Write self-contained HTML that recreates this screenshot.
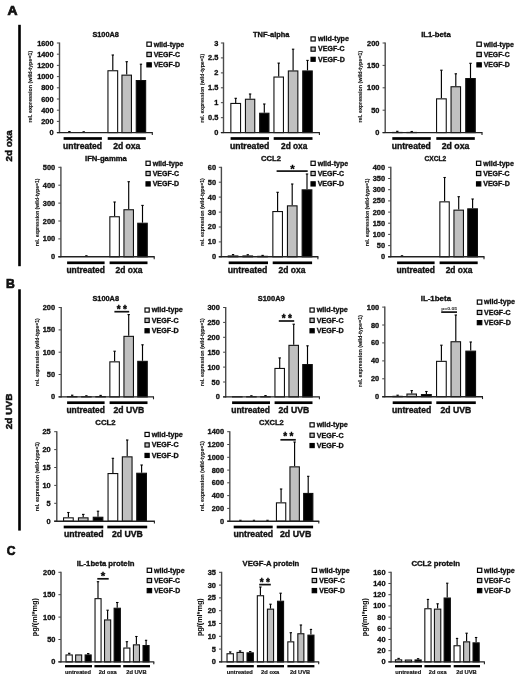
<!DOCTYPE html>
<html><head><meta charset="utf-8"><title>Figure</title>
<style>
html,body{margin:0;padding:0;background:#fff;}
body{width:520px;height:679px;overflow:hidden;font-family:"Liberation Sans",sans-serif;}
svg{display:block;will-change:transform;filter:blur(0.5px);}
text{font-family:"Liberation Sans",sans-serif;}
</style></head><body>
<svg width="520" height="679" viewBox="0 0 520 679" font-family='"Liberation Sans", sans-serif'>
<rect width="520" height="679" fill="#fff"/>
<text x="7.6" y="15.0" font-size="12" font-weight="bold" text-anchor="start" fill="#111" textLength="10.0" lengthAdjust="spacingAndGlyphs" stroke="#111" stroke-width="0.7">A</text>
<text x="6.0" y="288.3" font-size="12.2" font-weight="bold" text-anchor="start" fill="#111" stroke="#111" stroke-width="0.7">B</text>
<text x="6.7" y="554.7" font-size="12" font-weight="bold" text-anchor="start" fill="#111" stroke="#111" stroke-width="0.7">C</text>
<rect x="18.2" y="24.8" width="2.6" height="241.4" fill="#000"/>
<rect x="18.2" y="289.3" width="2.6" height="241.3" fill="#000"/>
<text transform="translate(11.7,145.8) rotate(-90)" font-size="9.7" font-weight="bold" text-anchor="middle" fill="#111" stroke="#111" stroke-width="0.5" textLength="31.3" lengthAdjust="spacingAndGlyphs">2d oxa</text>
<text transform="translate(11.7,411.4) rotate(-90)" font-size="9.7" font-weight="bold" text-anchor="middle" fill="#111" stroke="#111" stroke-width="0.5" textLength="35.6" lengthAdjust="spacingAndGlyphs">2d UVB</text>
<line x1="56.9" y1="132.6" x2="59.5" y2="132.6" stroke="#444" stroke-width="1.0"/>
<text x="53.6" y="135.1" font-size="7.4" font-weight="bold" text-anchor="end" fill="#111" stroke="#111" stroke-width="0.33">0</text>
<line x1="56.9" y1="121.4" x2="59.5" y2="121.4" stroke="#444" stroke-width="1.0"/>
<text x="53.6" y="123.9" font-size="7.4" font-weight="bold" text-anchor="end" fill="#111" stroke="#111" stroke-width="0.33">200</text>
<line x1="56.9" y1="110.2" x2="59.5" y2="110.2" stroke="#444" stroke-width="1.0"/>
<text x="53.6" y="112.7" font-size="7.4" font-weight="bold" text-anchor="end" fill="#111" stroke="#111" stroke-width="0.33">400</text>
<line x1="56.9" y1="99.0" x2="59.5" y2="99.0" stroke="#444" stroke-width="1.0"/>
<text x="53.6" y="101.5" font-size="7.4" font-weight="bold" text-anchor="end" fill="#111" stroke="#111" stroke-width="0.33">600</text>
<line x1="56.9" y1="87.8" x2="59.5" y2="87.8" stroke="#444" stroke-width="1.0"/>
<text x="53.6" y="90.3" font-size="7.4" font-weight="bold" text-anchor="end" fill="#111" stroke="#111" stroke-width="0.33">800</text>
<line x1="56.9" y1="76.6" x2="59.5" y2="76.6" stroke="#444" stroke-width="1.0"/>
<text x="53.6" y="79.1" font-size="7.4" font-weight="bold" text-anchor="end" fill="#111" stroke="#111" stroke-width="0.33">1000</text>
<line x1="56.9" y1="65.4" x2="59.5" y2="65.4" stroke="#444" stroke-width="1.0"/>
<text x="53.6" y="67.9" font-size="7.4" font-weight="bold" text-anchor="end" fill="#111" stroke="#111" stroke-width="0.33">1200</text>
<line x1="56.9" y1="54.2" x2="59.5" y2="54.2" stroke="#444" stroke-width="1.0"/>
<text x="53.6" y="56.7" font-size="7.4" font-weight="bold" text-anchor="end" fill="#111" stroke="#111" stroke-width="0.33">1400</text>
<line x1="56.9" y1="43.0" x2="59.5" y2="43.0" stroke="#444" stroke-width="1.0"/>
<text x="53.6" y="45.5" font-size="7.4" font-weight="bold" text-anchor="end" fill="#111" stroke="#111" stroke-width="0.33">1600</text>
<line x1="69.4" y1="131.6" x2="69.4" y2="132.3" stroke="#000" stroke-width="1.15"/>
<line x1="68.2" y1="131.6" x2="70.6" y2="131.6" stroke="#000" stroke-width="1.1"/>
<line x1="83.7" y1="131.8" x2="83.7" y2="132.3" stroke="#000" stroke-width="1.15"/>
<line x1="82.5" y1="131.8" x2="84.9" y2="131.8" stroke="#000" stroke-width="1.1"/>
<line x1="112.8" y1="55.0" x2="112.8" y2="70.2" stroke="#000" stroke-width="1.15"/>
<line x1="111.6" y1="55.0" x2="114.0" y2="55.0" stroke="#000" stroke-width="1.1"/>
<rect x="107.95" y="70.75" width="9.70" height="61.85" fill="#ffffff" stroke="#111" stroke-width="1.1"/>
<line x1="126.7" y1="61.7" x2="126.7" y2="74.6" stroke="#000" stroke-width="1.15"/>
<line x1="125.5" y1="61.7" x2="127.9" y2="61.7" stroke="#000" stroke-width="1.1"/>
<rect x="121.95" y="75.15" width="9.50" height="57.45" fill="#c0c0c0" stroke="#111" stroke-width="1.1"/>
<line x1="140.9" y1="64.2" x2="140.9" y2="80.0" stroke="#000" stroke-width="1.15"/>
<line x1="139.8" y1="64.2" x2="142.1" y2="64.2" stroke="#000" stroke-width="1.1"/>
<rect x="136.25" y="80.55" width="9.40" height="52.05" fill="#000000" stroke="#111" stroke-width="1.1"/>
<line x1="59.5" y1="42.5" x2="59.5" y2="133.1" stroke="#4a4a4a" stroke-width="1.4"/>
<line x1="56.9" y1="132.6" x2="152.8" y2="132.6" stroke="#222" stroke-width="1.4"/>
<line x1="152.3" y1="132.6" x2="152.3" y2="135.0" stroke="#222" stroke-width="1.1"/>
<rect x="63.6" y="137.15" width="38.3" height="2.7" fill="#000"/>
<text x="63.0" y="149.0" font-size="8.3" font-weight="bold" text-anchor="start" fill="#111" textLength="39.0" lengthAdjust="spacingAndGlyphs" stroke="#111" stroke-width="0.36">untreated</text>
<rect x="107.7" y="137.15" width="38.1" height="2.7" fill="#000"/>
<text x="113.2" y="149.0" font-size="8.3" font-weight="bold" text-anchor="start" fill="#111" textLength="27.2" lengthAdjust="spacingAndGlyphs" stroke="#111" stroke-width="0.36">2d oxa</text>
<text x="92.4" y="36.7" font-size="7.4" font-weight="bold" text-anchor="start" fill="#111" textLength="26.5" lengthAdjust="spacingAndGlyphs" stroke="#111" stroke-width="0.33">S100A8</text>
<text transform="translate(31.7,86.7) rotate(-90)" font-size="5.3" font-weight="bold" text-anchor="middle" fill="#111" stroke="#111" stroke-width="0.1" textLength="71.7" lengthAdjust="spacingAndGlyphs">rel. expression (wild-type=1)</text>
<rect x="146.90" y="42.10" width="4.40" height="4.20" fill="#ffffff" stroke="#000" stroke-width="1.15"/>
<text x="153.7" y="46.5" font-size="7.1" font-weight="bold" text-anchor="start" fill="#111" textLength="30.5" lengthAdjust="spacingAndGlyphs" stroke="#111" stroke-width="0.33">wild-type</text>
<rect x="146.90" y="52.30" width="4.40" height="4.30" fill="#c0c0c0" stroke="#000" stroke-width="1.15"/>
<text x="153.7" y="56.7" font-size="7.1" font-weight="bold" text-anchor="start" fill="#111" textLength="26.3" lengthAdjust="spacingAndGlyphs" stroke="#111" stroke-width="0.33">VEGF-C</text>
<rect x="146.90" y="62.80" width="4.40" height="4.10" fill="#000000" stroke="#000" stroke-width="1.15"/>
<text x="153.7" y="67.1" font-size="7.1" font-weight="bold" text-anchor="start" fill="#111" textLength="26.5" lengthAdjust="spacingAndGlyphs" stroke="#111" stroke-width="0.33">VEGF-D</text>
<line x1="220.9" y1="132.6" x2="223.5" y2="132.6" stroke="#444" stroke-width="1.0"/>
<text x="218.4" y="135.1" font-size="7.4" font-weight="bold" text-anchor="end" fill="#111" stroke="#111" stroke-width="0.33">0</text>
<line x1="220.9" y1="117.7" x2="223.5" y2="117.7" stroke="#444" stroke-width="1.0"/>
<text x="218.4" y="120.1" font-size="7.4" font-weight="bold" text-anchor="end" fill="#111" stroke="#111" stroke-width="0.33">0.5</text>
<line x1="220.9" y1="102.7" x2="223.5" y2="102.7" stroke="#444" stroke-width="1.0"/>
<text x="218.4" y="105.2" font-size="7.4" font-weight="bold" text-anchor="end" fill="#111" stroke="#111" stroke-width="0.33">1</text>
<line x1="220.9" y1="87.8" x2="223.5" y2="87.8" stroke="#444" stroke-width="1.0"/>
<text x="218.4" y="90.3" font-size="7.4" font-weight="bold" text-anchor="end" fill="#111" stroke="#111" stroke-width="0.33">1.5</text>
<line x1="220.9" y1="72.9" x2="223.5" y2="72.9" stroke="#444" stroke-width="1.0"/>
<text x="218.4" y="75.3" font-size="7.4" font-weight="bold" text-anchor="end" fill="#111" stroke="#111" stroke-width="0.33">2</text>
<line x1="220.9" y1="57.9" x2="223.5" y2="57.9" stroke="#444" stroke-width="1.0"/>
<text x="218.4" y="60.4" font-size="7.4" font-weight="bold" text-anchor="end" fill="#111" stroke="#111" stroke-width="0.33">2.5</text>
<line x1="220.9" y1="43.0" x2="223.5" y2="43.0" stroke="#444" stroke-width="1.0"/>
<text x="218.4" y="45.5" font-size="7.4" font-weight="bold" text-anchor="end" fill="#111" stroke="#111" stroke-width="0.33">3</text>
<line x1="235.7" y1="98.3" x2="235.7" y2="102.9" stroke="#000" stroke-width="1.15"/>
<line x1="234.5" y1="98.3" x2="236.9" y2="98.3" stroke="#000" stroke-width="1.1"/>
<rect x="230.85" y="103.45" width="9.70" height="29.15" fill="#ffffff" stroke="#111" stroke-width="1.1"/>
<line x1="250.1" y1="94.0" x2="250.1" y2="98.7" stroke="#000" stroke-width="1.15"/>
<line x1="248.9" y1="94.0" x2="251.3" y2="94.0" stroke="#000" stroke-width="1.1"/>
<rect x="245.45" y="99.25" width="9.30" height="33.35" fill="#c0c0c0" stroke="#111" stroke-width="1.1"/>
<line x1="264.3" y1="104.0" x2="264.3" y2="112.7" stroke="#000" stroke-width="1.15"/>
<line x1="263.1" y1="104.0" x2="265.5" y2="104.0" stroke="#000" stroke-width="1.1"/>
<rect x="259.65" y="113.25" width="9.30" height="19.35" fill="#000000" stroke="#111" stroke-width="1.1"/>
<line x1="278.7" y1="63.1" x2="278.7" y2="76.5" stroke="#000" stroke-width="1.15"/>
<line x1="277.5" y1="63.1" x2="279.9" y2="63.1" stroke="#000" stroke-width="1.1"/>
<rect x="273.95" y="77.05" width="9.50" height="55.55" fill="#ffffff" stroke="#111" stroke-width="1.1"/>
<line x1="293.1" y1="49.2" x2="293.1" y2="70.4" stroke="#000" stroke-width="1.15"/>
<line x1="291.9" y1="49.2" x2="294.3" y2="49.2" stroke="#000" stroke-width="1.1"/>
<rect x="288.35" y="70.95" width="9.50" height="61.65" fill="#c0c0c0" stroke="#111" stroke-width="1.1"/>
<line x1="307.5" y1="60.4" x2="307.5" y2="70.4" stroke="#000" stroke-width="1.15"/>
<line x1="306.3" y1="60.4" x2="308.7" y2="60.4" stroke="#000" stroke-width="1.1"/>
<rect x="302.75" y="70.95" width="9.50" height="61.65" fill="#000000" stroke="#111" stroke-width="1.1"/>
<line x1="223.5" y1="42.5" x2="223.5" y2="133.1" stroke="#4a4a4a" stroke-width="1.4"/>
<line x1="220.9" y1="132.6" x2="319.9" y2="132.6" stroke="#222" stroke-width="1.4"/>
<line x1="319.4" y1="132.6" x2="319.4" y2="135.0" stroke="#222" stroke-width="1.1"/>
<rect x="230.6" y="137.15" width="38.4" height="2.7" fill="#000"/>
<text x="229.9" y="149.0" font-size="8.3" font-weight="bold" text-anchor="start" fill="#111" textLength="39.5" lengthAdjust="spacingAndGlyphs" stroke="#111" stroke-width="0.36">untreated</text>
<rect x="273.7" y="137.15" width="38.8" height="2.7" fill="#000"/>
<text x="281.0" y="149.0" font-size="8.3" font-weight="bold" text-anchor="start" fill="#111" textLength="26.4" lengthAdjust="spacingAndGlyphs" stroke="#111" stroke-width="0.36">2d oxa</text>
<text x="253.0" y="36.7" font-size="7.4" font-weight="bold" text-anchor="start" fill="#111" textLength="36.5" lengthAdjust="spacingAndGlyphs" stroke="#111" stroke-width="0.33">TNF-alpha</text>
<text transform="translate(204.2,88.2) rotate(-90)" font-size="5.3" font-weight="bold" text-anchor="middle" fill="#111" stroke="#111" stroke-width="0.1" textLength="68.7" lengthAdjust="spacingAndGlyphs">rel. expression (wild-type=1)</text>
<rect x="311.00" y="36.90" width="4.20" height="4.10" fill="#ffffff" stroke="#000" stroke-width="1.15"/>
<text x="318.1" y="41.2" font-size="7.1" font-weight="bold" text-anchor="start" fill="#111" textLength="30.8" lengthAdjust="spacingAndGlyphs" stroke="#111" stroke-width="0.33">wild-type</text>
<rect x="311.00" y="47.10" width="4.20" height="4.10" fill="#c0c0c0" stroke="#000" stroke-width="1.15"/>
<text x="318.1" y="51.4" font-size="7.1" font-weight="bold" text-anchor="start" fill="#111" textLength="26.5" lengthAdjust="spacingAndGlyphs" stroke="#111" stroke-width="0.33">VEGF-C</text>
<rect x="311.00" y="57.30" width="4.20" height="4.00" fill="#000000" stroke="#000" stroke-width="1.15"/>
<text x="318.1" y="61.5" font-size="7.1" font-weight="bold" text-anchor="start" fill="#111" textLength="26.7" lengthAdjust="spacingAndGlyphs" stroke="#111" stroke-width="0.33">VEGF-D</text>
<line x1="382.6" y1="132.6" x2="385.2" y2="132.6" stroke="#444" stroke-width="1.0"/>
<text x="379.4" y="135.1" font-size="7.4" font-weight="bold" text-anchor="end" fill="#111" stroke="#111" stroke-width="0.33">0</text>
<line x1="382.6" y1="110.2" x2="385.2" y2="110.2" stroke="#444" stroke-width="1.0"/>
<text x="379.4" y="112.7" font-size="7.4" font-weight="bold" text-anchor="end" fill="#111" stroke="#111" stroke-width="0.33">50</text>
<line x1="382.6" y1="87.8" x2="385.2" y2="87.8" stroke="#444" stroke-width="1.0"/>
<text x="379.4" y="90.3" font-size="7.4" font-weight="bold" text-anchor="end" fill="#111" stroke="#111" stroke-width="0.33">100</text>
<line x1="382.6" y1="65.4" x2="385.2" y2="65.4" stroke="#444" stroke-width="1.0"/>
<text x="379.4" y="67.9" font-size="7.4" font-weight="bold" text-anchor="end" fill="#111" stroke="#111" stroke-width="0.33">150</text>
<line x1="382.6" y1="43.0" x2="385.2" y2="43.0" stroke="#444" stroke-width="1.0"/>
<text x="379.4" y="45.5" font-size="7.4" font-weight="bold" text-anchor="end" fill="#111" stroke="#111" stroke-width="0.33">200</text>
<line x1="397.3" y1="131.3" x2="397.3" y2="131.9" stroke="#000" stroke-width="1.15"/>
<line x1="396.1" y1="131.3" x2="398.5" y2="131.3" stroke="#000" stroke-width="1.1"/>
<rect x="392.55" y="132.45" width="9.50" height="0.15" fill="#ffffff" stroke="#111" stroke-width="1.1"/>
<line x1="411.7" y1="131.5" x2="411.7" y2="131.9" stroke="#000" stroke-width="1.15"/>
<line x1="410.5" y1="131.5" x2="412.9" y2="131.5" stroke="#000" stroke-width="1.1"/>
<rect x="406.95" y="132.45" width="9.50" height="0.15" fill="#c0c0c0" stroke="#111" stroke-width="1.1"/>
<line x1="441.4" y1="70.2" x2="441.4" y2="98.3" stroke="#000" stroke-width="1.15"/>
<line x1="440.2" y1="70.2" x2="442.6" y2="70.2" stroke="#000" stroke-width="1.1"/>
<rect x="436.55" y="98.85" width="9.70" height="33.75" fill="#ffffff" stroke="#111" stroke-width="1.1"/>
<line x1="455.8" y1="73.8" x2="455.8" y2="86.2" stroke="#000" stroke-width="1.15"/>
<line x1="454.6" y1="73.8" x2="457.0" y2="73.8" stroke="#000" stroke-width="1.1"/>
<rect x="451.05" y="86.75" width="9.50" height="45.85" fill="#c0c0c0" stroke="#111" stroke-width="1.1"/>
<line x1="470.5" y1="63.3" x2="470.5" y2="78.0" stroke="#000" stroke-width="1.15"/>
<line x1="469.3" y1="63.3" x2="471.7" y2="63.3" stroke="#000" stroke-width="1.1"/>
<rect x="465.75" y="78.55" width="9.50" height="54.05" fill="#000000" stroke="#111" stroke-width="1.1"/>
<line x1="385.2" y1="42.5" x2="385.2" y2="133.1" stroke="#4a4a4a" stroke-width="1.4"/>
<line x1="382.6" y1="132.6" x2="482.5" y2="132.6" stroke="#222" stroke-width="1.4"/>
<line x1="482.0" y1="132.6" x2="482.0" y2="135.0" stroke="#222" stroke-width="1.1"/>
<rect x="392.3" y="137.15" width="38.5" height="2.7" fill="#000"/>
<text x="391.7" y="149.0" font-size="8.3" font-weight="bold" text-anchor="start" fill="#111" textLength="39.1" lengthAdjust="spacingAndGlyphs" stroke="#111" stroke-width="0.36">untreated</text>
<rect x="436.3" y="137.15" width="38.5" height="2.7" fill="#000"/>
<text x="441.7" y="149.0" font-size="8.3" font-weight="bold" text-anchor="start" fill="#111" textLength="27.7" lengthAdjust="spacingAndGlyphs" stroke="#111" stroke-width="0.36">2d oxa</text>
<text x="421.2" y="36.7" font-size="7.4" font-weight="bold" text-anchor="start" fill="#111" textLength="29.5" lengthAdjust="spacingAndGlyphs" stroke="#111" stroke-width="0.33">IL1-beta</text>
<text transform="translate(361.7,86.7) rotate(-90)" font-size="5.3" font-weight="bold" text-anchor="middle" fill="#111" stroke="#111" stroke-width="0.1" textLength="71.7" lengthAdjust="spacingAndGlyphs">rel. expression (wild-type=1)</text>
<rect x="476.90" y="42.10" width="4.40" height="4.20" fill="#ffffff" stroke="#000" stroke-width="1.15"/>
<text x="483.7" y="46.5" font-size="7.1" font-weight="bold" text-anchor="start" fill="#111" textLength="30.3" lengthAdjust="spacingAndGlyphs" stroke="#111" stroke-width="0.33">wild-type</text>
<rect x="476.90" y="52.30" width="4.40" height="4.30" fill="#c0c0c0" stroke="#000" stroke-width="1.15"/>
<text x="483.7" y="56.7" font-size="7.1" font-weight="bold" text-anchor="start" fill="#111" textLength="25.9" lengthAdjust="spacingAndGlyphs" stroke="#111" stroke-width="0.33">VEGF-C</text>
<rect x="476.90" y="62.80" width="4.40" height="4.10" fill="#000000" stroke="#000" stroke-width="1.15"/>
<text x="483.7" y="67.1" font-size="7.1" font-weight="bold" text-anchor="start" fill="#111" textLength="26.1" lengthAdjust="spacingAndGlyphs" stroke="#111" stroke-width="0.33">VEGF-D</text>
<line x1="58.3" y1="256.8" x2="60.9" y2="256.8" stroke="#444" stroke-width="1.0"/>
<text x="55.2" y="259.3" font-size="7.4" font-weight="bold" text-anchor="end" fill="#111" stroke="#111" stroke-width="0.33">0</text>
<line x1="58.3" y1="238.9" x2="60.9" y2="238.9" stroke="#444" stroke-width="1.0"/>
<text x="55.2" y="241.4" font-size="7.4" font-weight="bold" text-anchor="end" fill="#111" stroke="#111" stroke-width="0.33">100</text>
<line x1="58.3" y1="221.0" x2="60.9" y2="221.0" stroke="#444" stroke-width="1.0"/>
<text x="55.2" y="223.5" font-size="7.4" font-weight="bold" text-anchor="end" fill="#111" stroke="#111" stroke-width="0.33">200</text>
<line x1="58.3" y1="203.1" x2="60.9" y2="203.1" stroke="#444" stroke-width="1.0"/>
<text x="55.2" y="205.6" font-size="7.4" font-weight="bold" text-anchor="end" fill="#111" stroke="#111" stroke-width="0.33">300</text>
<line x1="58.3" y1="185.2" x2="60.9" y2="185.2" stroke="#444" stroke-width="1.0"/>
<text x="55.2" y="187.7" font-size="7.4" font-weight="bold" text-anchor="end" fill="#111" stroke="#111" stroke-width="0.33">400</text>
<line x1="58.3" y1="167.3" x2="60.9" y2="167.3" stroke="#444" stroke-width="1.0"/>
<text x="55.2" y="169.8" font-size="7.4" font-weight="bold" text-anchor="end" fill="#111" stroke="#111" stroke-width="0.33">500</text>
<rect x="67.45" y="256.85" width="9.50" height="-0.05" fill="#ffffff" stroke="#111" stroke-width="1.1"/>
<line x1="86.4" y1="255.8" x2="86.4" y2="256.3" stroke="#000" stroke-width="1.15"/>
<line x1="85.2" y1="255.8" x2="87.6" y2="255.8" stroke="#000" stroke-width="1.1"/>
<rect x="81.65" y="256.85" width="9.50" height="-0.05" fill="#c0c0c0" stroke="#111" stroke-width="1.1"/>
<line x1="114.6" y1="202.0" x2="114.6" y2="216.2" stroke="#000" stroke-width="1.15"/>
<line x1="113.4" y1="202.0" x2="115.8" y2="202.0" stroke="#000" stroke-width="1.1"/>
<rect x="109.85" y="216.75" width="9.50" height="40.05" fill="#ffffff" stroke="#111" stroke-width="1.1"/>
<line x1="128.7" y1="181.7" x2="128.7" y2="209.2" stroke="#000" stroke-width="1.15"/>
<line x1="127.5" y1="181.7" x2="129.9" y2="181.7" stroke="#000" stroke-width="1.1"/>
<rect x="123.95" y="209.75" width="9.50" height="47.05" fill="#c0c0c0" stroke="#111" stroke-width="1.1"/>
<line x1="142.5" y1="205.4" x2="142.5" y2="222.7" stroke="#000" stroke-width="1.15"/>
<line x1="141.3" y1="205.4" x2="143.7" y2="205.4" stroke="#000" stroke-width="1.1"/>
<rect x="137.75" y="223.25" width="9.50" height="33.55" fill="#000000" stroke="#111" stroke-width="1.1"/>
<line x1="60.9" y1="166.8" x2="60.9" y2="257.3" stroke="#4a4a4a" stroke-width="1.4"/>
<line x1="58.3" y1="256.8" x2="154.7" y2="256.8" stroke="#222" stroke-width="1.4"/>
<line x1="154.2" y1="256.8" x2="154.2" y2="259.2" stroke="#222" stroke-width="1.1"/>
<rect x="67.1" y="261.45" width="37.5" height="2.7" fill="#000"/>
<text x="66.4" y="273.2" font-size="8.3" font-weight="bold" text-anchor="start" fill="#111" textLength="38.6" lengthAdjust="spacingAndGlyphs" stroke="#111" stroke-width="0.36">untreated</text>
<rect x="109.6" y="261.45" width="37.9" height="2.7" fill="#000"/>
<text x="115.5" y="273.2" font-size="8.3" font-weight="bold" text-anchor="start" fill="#111" textLength="26.9" lengthAdjust="spacingAndGlyphs" stroke="#111" stroke-width="0.36">2d oxa</text>
<text x="85.0" y="161.0" font-size="7.4" font-weight="bold" text-anchor="start" fill="#111" textLength="41.8" lengthAdjust="spacingAndGlyphs" stroke="#111" stroke-width="0.33">IFN-gamma</text>
<text transform="translate(39.0,212.4) rotate(-90)" font-size="5.0" font-weight="bold" text-anchor="middle" fill="#111" stroke="#111" stroke-width="0.1" textLength="67.6" lengthAdjust="spacingAndGlyphs">rel. expression (wild-type=1)</text>
<rect x="146.00" y="161.20" width="4.20" height="4.20" fill="#ffffff" stroke="#000" stroke-width="1.15"/>
<text x="152.7" y="165.6" font-size="7.1" font-weight="bold" text-anchor="start" fill="#111" textLength="30.5" lengthAdjust="spacingAndGlyphs" stroke="#111" stroke-width="0.33">wild-type</text>
<rect x="146.00" y="171.40" width="4.20" height="4.20" fill="#c0c0c0" stroke="#000" stroke-width="1.15"/>
<text x="152.7" y="175.8" font-size="7.1" font-weight="bold" text-anchor="start" fill="#111" textLength="26.3" lengthAdjust="spacingAndGlyphs" stroke="#111" stroke-width="0.33">VEGF-C</text>
<rect x="146.00" y="181.80" width="4.20" height="4.20" fill="#000000" stroke="#000" stroke-width="1.15"/>
<text x="152.7" y="186.1" font-size="7.1" font-weight="bold" text-anchor="start" fill="#111" textLength="26.5" lengthAdjust="spacingAndGlyphs" stroke="#111" stroke-width="0.33">VEGF-D</text>
<line x1="218.8" y1="256.8" x2="221.4" y2="256.8" stroke="#444" stroke-width="1.0"/>
<text x="216.0" y="259.3" font-size="7.4" font-weight="bold" text-anchor="end" fill="#111" stroke="#111" stroke-width="0.33">0</text>
<line x1="218.8" y1="241.9" x2="221.4" y2="241.9" stroke="#444" stroke-width="1.0"/>
<text x="216.0" y="244.3" font-size="7.4" font-weight="bold" text-anchor="end" fill="#111" stroke="#111" stroke-width="0.33">10</text>
<line x1="218.8" y1="227.0" x2="221.4" y2="227.0" stroke="#444" stroke-width="1.0"/>
<text x="216.0" y="229.4" font-size="7.4" font-weight="bold" text-anchor="end" fill="#111" stroke="#111" stroke-width="0.33">20</text>
<line x1="218.8" y1="212.1" x2="221.4" y2="212.1" stroke="#444" stroke-width="1.0"/>
<text x="216.0" y="214.5" font-size="7.4" font-weight="bold" text-anchor="end" fill="#111" stroke="#111" stroke-width="0.33">30</text>
<line x1="218.8" y1="197.1" x2="221.4" y2="197.1" stroke="#444" stroke-width="1.0"/>
<text x="216.0" y="199.6" font-size="7.4" font-weight="bold" text-anchor="end" fill="#111" stroke="#111" stroke-width="0.33">40</text>
<line x1="218.8" y1="182.2" x2="221.4" y2="182.2" stroke="#444" stroke-width="1.0"/>
<text x="216.0" y="184.7" font-size="7.4" font-weight="bold" text-anchor="end" fill="#111" stroke="#111" stroke-width="0.33">50</text>
<line x1="218.8" y1="167.3" x2="221.4" y2="167.3" stroke="#444" stroke-width="1.0"/>
<text x="216.0" y="169.8" font-size="7.4" font-weight="bold" text-anchor="end" fill="#111" stroke="#111" stroke-width="0.33">60</text>
<line x1="233.1" y1="254.6" x2="233.1" y2="255.4" stroke="#000" stroke-width="1.15"/>
<line x1="231.9" y1="254.6" x2="234.2" y2="254.6" stroke="#000" stroke-width="1.1"/>
<rect x="228.25" y="255.95" width="9.60" height="0.85" fill="#ffffff" stroke="#111" stroke-width="1.1"/>
<line x1="247.8" y1="254.7" x2="247.8" y2="255.4" stroke="#000" stroke-width="1.15"/>
<line x1="246.6" y1="254.7" x2="248.9" y2="254.7" stroke="#000" stroke-width="1.1"/>
<rect x="242.95" y="255.95" width="9.60" height="0.85" fill="#c0c0c0" stroke="#111" stroke-width="1.1"/>
<line x1="262.6" y1="255.4" x2="262.6" y2="255.8" stroke="#000" stroke-width="1.15"/>
<line x1="261.4" y1="255.4" x2="263.8" y2="255.4" stroke="#000" stroke-width="1.1"/>
<rect x="257.75" y="256.35" width="9.60" height="0.45" fill="#000000" stroke="#111" stroke-width="1.1"/>
<line x1="277.6" y1="192.3" x2="277.6" y2="211.0" stroke="#000" stroke-width="1.15"/>
<line x1="276.4" y1="192.3" x2="278.8" y2="192.3" stroke="#000" stroke-width="1.1"/>
<rect x="272.85" y="211.55" width="9.60" height="45.25" fill="#ffffff" stroke="#111" stroke-width="1.1"/>
<line x1="292.2" y1="184.0" x2="292.2" y2="205.3" stroke="#000" stroke-width="1.15"/>
<line x1="291.1" y1="184.0" x2="293.4" y2="184.0" stroke="#000" stroke-width="1.1"/>
<rect x="287.45" y="205.85" width="9.60" height="50.95" fill="#c0c0c0" stroke="#111" stroke-width="1.1"/>
<line x1="307.0" y1="174.0" x2="307.0" y2="189.3" stroke="#000" stroke-width="1.15"/>
<line x1="305.8" y1="174.0" x2="308.2" y2="174.0" stroke="#000" stroke-width="1.1"/>
<rect x="302.15" y="189.85" width="9.70" height="66.95" fill="#000000" stroke="#111" stroke-width="1.1"/>
<line x1="221.4" y1="166.8" x2="221.4" y2="257.3" stroke="#4a4a4a" stroke-width="1.4"/>
<line x1="218.8" y1="256.8" x2="318.4" y2="256.8" stroke="#222" stroke-width="1.4"/>
<line x1="317.9" y1="256.8" x2="317.9" y2="259.2" stroke="#222" stroke-width="1.1"/>
<rect x="228.7" y="261.45" width="39.3" height="2.7" fill="#000"/>
<text x="227.7" y="273.2" font-size="8.3" font-weight="bold" text-anchor="start" fill="#111" textLength="39.7" lengthAdjust="spacingAndGlyphs" stroke="#111" stroke-width="0.36">untreated</text>
<rect x="272.7" y="261.45" width="39.4" height="2.7" fill="#000"/>
<text x="278.5" y="273.2" font-size="8.3" font-weight="bold" text-anchor="start" fill="#111" textLength="26.9" lengthAdjust="spacingAndGlyphs" stroke="#111" stroke-width="0.36">2d oxa</text>
<text x="261.0" y="161.0" font-size="7.4" font-weight="bold" text-anchor="start" fill="#111" textLength="19.9" lengthAdjust="spacingAndGlyphs" stroke="#111" stroke-width="0.33">CCL2</text>
<text transform="translate(204.0,212.1) rotate(-90)" font-size="5.0" font-weight="bold" text-anchor="middle" fill="#111" stroke="#111" stroke-width="0.1" textLength="67.5" lengthAdjust="spacingAndGlyphs">rel. expression (wild-type=1)</text>
<rect x="311.00" y="161.20" width="4.20" height="4.20" fill="#ffffff" stroke="#000" stroke-width="1.15"/>
<text x="317.7" y="165.6" font-size="7.1" font-weight="bold" text-anchor="start" fill="#111" textLength="30.5" lengthAdjust="spacingAndGlyphs" stroke="#111" stroke-width="0.33">wild-type</text>
<rect x="311.00" y="171.40" width="4.20" height="4.20" fill="#c0c0c0" stroke="#000" stroke-width="1.15"/>
<text x="317.7" y="175.8" font-size="7.1" font-weight="bold" text-anchor="start" fill="#111" textLength="26.3" lengthAdjust="spacingAndGlyphs" stroke="#111" stroke-width="0.33">VEGF-C</text>
<rect x="311.00" y="181.80" width="4.20" height="4.20" fill="#000000" stroke="#000" stroke-width="1.15"/>
<text x="317.7" y="186.1" font-size="7.1" font-weight="bold" text-anchor="start" fill="#111" textLength="26.5" lengthAdjust="spacingAndGlyphs" stroke="#111" stroke-width="0.33">VEGF-D</text>
<line x1="276.6" y1="171.1" x2="307.7" y2="171.1" stroke="#111" stroke-width="1.7"/>
<text x="292.6" y="173.2" font-size="11.5" font-weight="bold" text-anchor="middle" fill="#000" letter-spacing="0" stroke="#000" stroke-width="0.3">*</text>
<line x1="388.1" y1="256.8" x2="390.8" y2="256.8" stroke="#444" stroke-width="1.0"/>
<text x="385.1" y="259.3" font-size="7.4" font-weight="bold" text-anchor="end" fill="#111" stroke="#111" stroke-width="0.33">0</text>
<line x1="388.1" y1="245.6" x2="390.8" y2="245.6" stroke="#444" stroke-width="1.0"/>
<text x="385.1" y="248.1" font-size="7.4" font-weight="bold" text-anchor="end" fill="#111" stroke="#111" stroke-width="0.33">50</text>
<line x1="388.1" y1="234.4" x2="390.8" y2="234.4" stroke="#444" stroke-width="1.0"/>
<text x="385.1" y="236.9" font-size="7.4" font-weight="bold" text-anchor="end" fill="#111" stroke="#111" stroke-width="0.33">100</text>
<line x1="388.1" y1="223.2" x2="390.8" y2="223.2" stroke="#444" stroke-width="1.0"/>
<text x="385.1" y="225.7" font-size="7.4" font-weight="bold" text-anchor="end" fill="#111" stroke="#111" stroke-width="0.33">150</text>
<line x1="388.1" y1="212.1" x2="390.8" y2="212.1" stroke="#444" stroke-width="1.0"/>
<text x="385.1" y="214.5" font-size="7.4" font-weight="bold" text-anchor="end" fill="#111" stroke="#111" stroke-width="0.33">200</text>
<line x1="388.1" y1="200.9" x2="390.8" y2="200.9" stroke="#444" stroke-width="1.0"/>
<text x="385.1" y="203.3" font-size="7.4" font-weight="bold" text-anchor="end" fill="#111" stroke="#111" stroke-width="0.33">250</text>
<line x1="388.1" y1="189.7" x2="390.8" y2="189.7" stroke="#444" stroke-width="1.0"/>
<text x="385.1" y="192.1" font-size="7.4" font-weight="bold" text-anchor="end" fill="#111" stroke="#111" stroke-width="0.33">300</text>
<line x1="388.1" y1="178.5" x2="390.8" y2="178.5" stroke="#444" stroke-width="1.0"/>
<text x="385.1" y="181.0" font-size="7.4" font-weight="bold" text-anchor="end" fill="#111" stroke="#111" stroke-width="0.33">350</text>
<line x1="388.1" y1="167.3" x2="390.8" y2="167.3" stroke="#444" stroke-width="1.0"/>
<text x="385.1" y="169.8" font-size="7.4" font-weight="bold" text-anchor="end" fill="#111" stroke="#111" stroke-width="0.33">400</text>
<line x1="402.0" y1="255.8" x2="402.0" y2="256.3" stroke="#000" stroke-width="1.15"/>
<line x1="400.8" y1="255.8" x2="403.2" y2="255.8" stroke="#000" stroke-width="1.1"/>
<rect x="397.25" y="256.85" width="9.50" height="-0.05" fill="#ffffff" stroke="#111" stroke-width="1.1"/>
<line x1="444.6" y1="177.5" x2="444.6" y2="201.3" stroke="#000" stroke-width="1.15"/>
<line x1="443.4" y1="177.5" x2="445.8" y2="177.5" stroke="#000" stroke-width="1.1"/>
<rect x="439.85" y="201.85" width="9.40" height="54.95" fill="#ffffff" stroke="#111" stroke-width="1.1"/>
<line x1="458.7" y1="196.7" x2="458.7" y2="209.6" stroke="#000" stroke-width="1.15"/>
<line x1="457.5" y1="196.7" x2="459.9" y2="196.7" stroke="#000" stroke-width="1.1"/>
<rect x="453.95" y="210.15" width="9.50" height="46.65" fill="#c0c0c0" stroke="#111" stroke-width="1.1"/>
<line x1="472.6" y1="199.0" x2="472.6" y2="208.3" stroke="#000" stroke-width="1.15"/>
<line x1="471.4" y1="199.0" x2="473.8" y2="199.0" stroke="#000" stroke-width="1.1"/>
<rect x="467.75" y="208.85" width="9.70" height="47.95" fill="#000000" stroke="#111" stroke-width="1.1"/>
<line x1="390.8" y1="166.8" x2="390.8" y2="257.3" stroke="#4a4a4a" stroke-width="1.4"/>
<line x1="388.1" y1="256.8" x2="484.5" y2="256.8" stroke="#222" stroke-width="1.4"/>
<line x1="484.0" y1="256.8" x2="484.0" y2="259.2" stroke="#222" stroke-width="1.1"/>
<rect x="397.1" y="261.45" width="37.5" height="2.7" fill="#000"/>
<text x="396.4" y="273.2" font-size="8.3" font-weight="bold" text-anchor="start" fill="#111" textLength="38.6" lengthAdjust="spacingAndGlyphs" stroke="#111" stroke-width="0.36">untreated</text>
<rect x="439.6" y="261.45" width="38.1" height="2.7" fill="#000"/>
<text x="445.7" y="273.2" font-size="8.3" font-weight="bold" text-anchor="start" fill="#111" textLength="26.7" lengthAdjust="spacingAndGlyphs" stroke="#111" stroke-width="0.36">2d oxa</text>
<text x="424.4" y="161.0" font-size="7.4" font-weight="bold" text-anchor="start" fill="#111" textLength="21.9" lengthAdjust="spacingAndGlyphs" stroke="#111" stroke-width="0.33">CXCL2</text>
<text transform="translate(369.1,212.4) rotate(-90)" font-size="5.0" font-weight="bold" text-anchor="middle" fill="#111" stroke="#111" stroke-width="0.1" textLength="67.6" lengthAdjust="spacingAndGlyphs">rel. expression (wild-type=1)</text>
<rect x="476.50" y="161.20" width="4.30" height="4.20" fill="#ffffff" stroke="#000" stroke-width="1.15"/>
<text x="483.2" y="165.6" font-size="7.1" font-weight="bold" text-anchor="start" fill="#111" textLength="30.7" lengthAdjust="spacingAndGlyphs" stroke="#111" stroke-width="0.33">wild-type</text>
<rect x="476.50" y="171.40" width="4.30" height="4.20" fill="#c0c0c0" stroke="#000" stroke-width="1.15"/>
<text x="483.2" y="175.8" font-size="7.1" font-weight="bold" text-anchor="start" fill="#111" textLength="26.4" lengthAdjust="spacingAndGlyphs" stroke="#111" stroke-width="0.33">VEGF-C</text>
<rect x="476.50" y="181.80" width="4.30" height="4.20" fill="#000000" stroke="#000" stroke-width="1.15"/>
<text x="483.2" y="186.1" font-size="7.1" font-weight="bold" text-anchor="start" fill="#111" textLength="26.6" lengthAdjust="spacingAndGlyphs" stroke="#111" stroke-width="0.33">VEGF-D</text>
<line x1="58.6" y1="396.9" x2="61.2" y2="396.9" stroke="#444" stroke-width="1.0"/>
<text x="55.0" y="399.4" font-size="7.4" font-weight="bold" text-anchor="end" fill="#111" stroke="#111" stroke-width="0.33">0</text>
<line x1="58.6" y1="374.5" x2="61.2" y2="374.5" stroke="#444" stroke-width="1.0"/>
<text x="55.0" y="377.0" font-size="7.4" font-weight="bold" text-anchor="end" fill="#111" stroke="#111" stroke-width="0.33">50</text>
<line x1="58.6" y1="352.2" x2="61.2" y2="352.2" stroke="#444" stroke-width="1.0"/>
<text x="55.0" y="354.7" font-size="7.4" font-weight="bold" text-anchor="end" fill="#111" stroke="#111" stroke-width="0.33">100</text>
<line x1="58.6" y1="329.9" x2="61.2" y2="329.9" stroke="#444" stroke-width="1.0"/>
<text x="55.0" y="332.3" font-size="7.4" font-weight="bold" text-anchor="end" fill="#111" stroke="#111" stroke-width="0.33">150</text>
<line x1="58.6" y1="307.5" x2="61.2" y2="307.5" stroke="#444" stroke-width="1.0"/>
<text x="55.0" y="310.0" font-size="7.4" font-weight="bold" text-anchor="end" fill="#111" stroke="#111" stroke-width="0.33">200</text>
<line x1="72.2" y1="395.2" x2="72.2" y2="396.1" stroke="#000" stroke-width="1.15"/>
<line x1="71.0" y1="395.2" x2="73.4" y2="395.2" stroke="#000" stroke-width="1.1"/>
<rect x="67.45" y="396.65" width="9.50" height="0.25" fill="#ffffff" stroke="#111" stroke-width="1.1"/>
<line x1="86.4" y1="395.8" x2="86.4" y2="396.2" stroke="#000" stroke-width="1.15"/>
<line x1="85.2" y1="395.8" x2="87.6" y2="395.8" stroke="#000" stroke-width="1.1"/>
<rect x="81.65" y="396.75" width="9.50" height="0.15" fill="#c0c0c0" stroke="#111" stroke-width="1.1"/>
<line x1="100.6" y1="395.4" x2="100.6" y2="396.1" stroke="#000" stroke-width="1.15"/>
<line x1="99.4" y1="395.4" x2="101.8" y2="395.4" stroke="#000" stroke-width="1.1"/>
<rect x="95.85" y="396.65" width="9.50" height="0.25" fill="#000000" stroke="#111" stroke-width="1.1"/>
<line x1="114.6" y1="351.2" x2="114.6" y2="361.3" stroke="#000" stroke-width="1.15"/>
<line x1="113.4" y1="351.2" x2="115.8" y2="351.2" stroke="#000" stroke-width="1.1"/>
<rect x="109.85" y="361.85" width="9.50" height="35.05" fill="#ffffff" stroke="#111" stroke-width="1.1"/>
<line x1="128.7" y1="314.6" x2="128.7" y2="335.8" stroke="#000" stroke-width="1.15"/>
<line x1="127.5" y1="314.6" x2="129.9" y2="314.6" stroke="#000" stroke-width="1.1"/>
<rect x="123.95" y="336.35" width="9.50" height="60.55" fill="#c0c0c0" stroke="#111" stroke-width="1.1"/>
<line x1="142.5" y1="344.8" x2="142.5" y2="360.8" stroke="#000" stroke-width="1.15"/>
<line x1="141.3" y1="344.8" x2="143.7" y2="344.8" stroke="#000" stroke-width="1.1"/>
<rect x="137.75" y="361.35" width="9.50" height="35.55" fill="#000000" stroke="#111" stroke-width="1.1"/>
<line x1="61.2" y1="307.0" x2="61.2" y2="397.4" stroke="#4a4a4a" stroke-width="1.4"/>
<line x1="58.6" y1="396.9" x2="154.0" y2="396.9" stroke="#222" stroke-width="1.4"/>
<line x1="153.5" y1="396.9" x2="153.5" y2="399.3" stroke="#222" stroke-width="1.1"/>
<rect x="67.1" y="401.35" width="37.5" height="2.7" fill="#000"/>
<text x="66.4" y="413.0" font-size="8.3" font-weight="bold" text-anchor="start" fill="#111" textLength="38.6" lengthAdjust="spacingAndGlyphs" stroke="#111" stroke-width="0.36">untreated</text>
<rect x="109.6" y="401.35" width="37.9" height="2.7" fill="#000"/>
<text x="113.5" y="413.0" font-size="8.3" font-weight="bold" text-anchor="start" fill="#111" textLength="30.7" lengthAdjust="spacingAndGlyphs" stroke="#111" stroke-width="0.36">2d UVB</text>
<text x="92.4" y="301.3" font-size="7.4" font-weight="bold" text-anchor="start" fill="#111" textLength="26.6" lengthAdjust="spacingAndGlyphs" stroke="#111" stroke-width="0.33">S100A8</text>
<text transform="translate(39.1,352.1) rotate(-90)" font-size="5.0" font-weight="bold" text-anchor="middle" fill="#111" stroke="#111" stroke-width="0.1" textLength="67.7" lengthAdjust="spacingAndGlyphs">rel. expression (wild-type=1)</text>
<rect x="145.00" y="308.00" width="4.20" height="4.10" fill="#ffffff" stroke="#000" stroke-width="1.15"/>
<text x="151.7" y="312.3" font-size="7.1" font-weight="bold" text-anchor="start" fill="#111" textLength="31.2" lengthAdjust="spacingAndGlyphs" stroke="#111" stroke-width="0.33">wild-type</text>
<rect x="145.00" y="318.20" width="4.20" height="4.30" fill="#c0c0c0" stroke="#000" stroke-width="1.15"/>
<text x="151.7" y="322.6" font-size="7.1" font-weight="bold" text-anchor="start" fill="#111" textLength="26.9" lengthAdjust="spacingAndGlyphs" stroke="#111" stroke-width="0.33">VEGF-C</text>
<rect x="145.00" y="328.70" width="4.20" height="4.10" fill="#000000" stroke="#000" stroke-width="1.15"/>
<text x="151.7" y="333.0" font-size="7.1" font-weight="bold" text-anchor="start" fill="#111" textLength="27.1" lengthAdjust="spacingAndGlyphs" stroke="#111" stroke-width="0.33">VEGF-D</text>
<line x1="114.4" y1="311.7" x2="129.2" y2="311.7" stroke="#111" stroke-width="1.7"/>
<text x="123.0" y="312.5" font-size="10" font-weight="bold" text-anchor="middle" fill="#000" letter-spacing="2.3" stroke="#000" stroke-width="0.35">**</text>
<line x1="223.1" y1="396.9" x2="225.7" y2="396.9" stroke="#444" stroke-width="1.0"/>
<text x="219.8" y="399.4" font-size="7.4" font-weight="bold" text-anchor="end" fill="#111" stroke="#111" stroke-width="0.33">0</text>
<line x1="223.1" y1="382.0" x2="225.7" y2="382.0" stroke="#444" stroke-width="1.0"/>
<text x="219.8" y="384.5" font-size="7.4" font-weight="bold" text-anchor="end" fill="#111" stroke="#111" stroke-width="0.33">50</text>
<line x1="223.1" y1="367.1" x2="225.7" y2="367.1" stroke="#444" stroke-width="1.0"/>
<text x="219.8" y="369.6" font-size="7.4" font-weight="bold" text-anchor="end" fill="#111" stroke="#111" stroke-width="0.33">100</text>
<line x1="223.1" y1="352.2" x2="225.7" y2="352.2" stroke="#444" stroke-width="1.0"/>
<text x="219.8" y="354.7" font-size="7.4" font-weight="bold" text-anchor="end" fill="#111" stroke="#111" stroke-width="0.33">150</text>
<line x1="223.1" y1="337.3" x2="225.7" y2="337.3" stroke="#444" stroke-width="1.0"/>
<text x="219.8" y="339.8" font-size="7.4" font-weight="bold" text-anchor="end" fill="#111" stroke="#111" stroke-width="0.33">200</text>
<line x1="223.1" y1="322.4" x2="225.7" y2="322.4" stroke="#444" stroke-width="1.0"/>
<text x="219.8" y="324.9" font-size="7.4" font-weight="bold" text-anchor="end" fill="#111" stroke="#111" stroke-width="0.33">250</text>
<line x1="223.1" y1="307.5" x2="225.7" y2="307.5" stroke="#444" stroke-width="1.0"/>
<text x="219.8" y="310.0" font-size="7.4" font-weight="bold" text-anchor="end" fill="#111" stroke="#111" stroke-width="0.33">300</text>
<rect x="232.55" y="396.75" width="9.50" height="0.15" fill="#ffffff" stroke="#111" stroke-width="1.1"/>
<line x1="251.4" y1="395.8" x2="251.4" y2="396.2" stroke="#000" stroke-width="1.15"/>
<line x1="250.2" y1="395.8" x2="252.6" y2="395.8" stroke="#000" stroke-width="1.1"/>
<rect x="246.65" y="396.75" width="9.50" height="0.15" fill="#c0c0c0" stroke="#111" stroke-width="1.1"/>
<line x1="265.5" y1="395.6" x2="265.5" y2="396.2" stroke="#000" stroke-width="1.15"/>
<line x1="264.3" y1="395.6" x2="266.7" y2="395.6" stroke="#000" stroke-width="1.1"/>
<rect x="260.75" y="396.75" width="9.50" height="0.15" fill="#000000" stroke="#111" stroke-width="1.1"/>
<line x1="279.7" y1="357.9" x2="279.7" y2="367.9" stroke="#000" stroke-width="1.15"/>
<line x1="278.5" y1="357.9" x2="280.9" y2="357.9" stroke="#000" stroke-width="1.1"/>
<rect x="274.95" y="368.45" width="9.50" height="28.45" fill="#ffffff" stroke="#111" stroke-width="1.1"/>
<line x1="293.7" y1="324.2" x2="293.7" y2="344.8" stroke="#000" stroke-width="1.15"/>
<line x1="292.5" y1="324.2" x2="294.9" y2="324.2" stroke="#000" stroke-width="1.1"/>
<rect x="288.95" y="345.35" width="9.50" height="51.55" fill="#c0c0c0" stroke="#111" stroke-width="1.1"/>
<line x1="307.5" y1="345.8" x2="307.5" y2="364.0" stroke="#000" stroke-width="1.15"/>
<line x1="306.3" y1="345.8" x2="308.7" y2="345.8" stroke="#000" stroke-width="1.1"/>
<rect x="302.75" y="364.55" width="9.50" height="32.35" fill="#000000" stroke="#111" stroke-width="1.1"/>
<line x1="225.7" y1="307.0" x2="225.7" y2="397.4" stroke="#4a4a4a" stroke-width="1.4"/>
<line x1="223.1" y1="396.9" x2="319.9" y2="396.9" stroke="#222" stroke-width="1.4"/>
<line x1="319.4" y1="396.9" x2="319.4" y2="399.3" stroke="#222" stroke-width="1.1"/>
<rect x="232.1" y="401.35" width="37.9" height="2.7" fill="#000"/>
<text x="231.2" y="413.0" font-size="8.3" font-weight="bold" text-anchor="start" fill="#111" textLength="38.8" lengthAdjust="spacingAndGlyphs" stroke="#111" stroke-width="0.36">untreated</text>
<rect x="274.6" y="401.35" width="37.9" height="2.7" fill="#000"/>
<text x="278.5" y="413.0" font-size="8.3" font-weight="bold" text-anchor="start" fill="#111" textLength="30.7" lengthAdjust="spacingAndGlyphs" stroke="#111" stroke-width="0.36">2d UVB</text>
<text x="257.7" y="301.3" font-size="7.4" font-weight="bold" text-anchor="start" fill="#111" textLength="27.0" lengthAdjust="spacingAndGlyphs" stroke="#111" stroke-width="0.33">S100A9</text>
<text transform="translate(203.8,352.1) rotate(-90)" font-size="5.0" font-weight="bold" text-anchor="middle" fill="#111" stroke="#111" stroke-width="0.1" textLength="67.7" lengthAdjust="spacingAndGlyphs">rel. expression (wild-type=1)</text>
<rect x="310.00" y="308.00" width="4.20" height="4.10" fill="#ffffff" stroke="#000" stroke-width="1.15"/>
<text x="316.7" y="312.3" font-size="7.1" font-weight="bold" text-anchor="start" fill="#111" textLength="31.2" lengthAdjust="spacingAndGlyphs" stroke="#111" stroke-width="0.33">wild-type</text>
<rect x="310.00" y="318.20" width="4.20" height="4.30" fill="#c0c0c0" stroke="#000" stroke-width="1.15"/>
<text x="316.7" y="322.6" font-size="7.1" font-weight="bold" text-anchor="start" fill="#111" textLength="26.9" lengthAdjust="spacingAndGlyphs" stroke="#111" stroke-width="0.33">VEGF-C</text>
<rect x="310.00" y="328.70" width="4.20" height="4.10" fill="#000000" stroke="#000" stroke-width="1.15"/>
<text x="316.7" y="333.0" font-size="7.1" font-weight="bold" text-anchor="start" fill="#111" textLength="27.1" lengthAdjust="spacingAndGlyphs" stroke="#111" stroke-width="0.33">VEGF-D</text>
<line x1="278.8" y1="321.0" x2="294.2" y2="321.0" stroke="#111" stroke-width="1.7"/>
<text x="287.9" y="321.6" font-size="10" font-weight="bold" text-anchor="middle" fill="#000" letter-spacing="2.3" stroke="#000" stroke-width="0.35">**</text>
<line x1="382.2" y1="396.7" x2="384.8" y2="396.7" stroke="#444" stroke-width="1.0"/>
<text x="379.2" y="399.2" font-size="7.4" font-weight="bold" text-anchor="end" fill="#111" stroke="#111" stroke-width="0.33">0</text>
<line x1="382.2" y1="378.8" x2="384.8" y2="378.8" stroke="#444" stroke-width="1.0"/>
<text x="379.2" y="381.2" font-size="7.4" font-weight="bold" text-anchor="end" fill="#111" stroke="#111" stroke-width="0.33">20</text>
<line x1="382.2" y1="360.9" x2="384.8" y2="360.9" stroke="#444" stroke-width="1.0"/>
<text x="379.2" y="363.3" font-size="7.4" font-weight="bold" text-anchor="end" fill="#111" stroke="#111" stroke-width="0.33">40</text>
<line x1="382.2" y1="342.9" x2="384.8" y2="342.9" stroke="#444" stroke-width="1.0"/>
<text x="379.2" y="345.4" font-size="7.4" font-weight="bold" text-anchor="end" fill="#111" stroke="#111" stroke-width="0.33">60</text>
<line x1="382.2" y1="325.0" x2="384.8" y2="325.0" stroke="#444" stroke-width="1.0"/>
<text x="379.2" y="327.5" font-size="7.4" font-weight="bold" text-anchor="end" fill="#111" stroke="#111" stroke-width="0.33">80</text>
<line x1="382.2" y1="307.1" x2="384.8" y2="307.1" stroke="#444" stroke-width="1.0"/>
<text x="379.2" y="309.6" font-size="7.4" font-weight="bold" text-anchor="end" fill="#111" stroke="#111" stroke-width="0.33">100</text>
<line x1="397.6" y1="395.2" x2="397.6" y2="395.8" stroke="#000" stroke-width="1.15"/>
<line x1="396.4" y1="395.2" x2="398.8" y2="395.2" stroke="#000" stroke-width="1.1"/>
<rect x="392.95" y="396.35" width="9.30" height="0.35" fill="#ffffff" stroke="#111" stroke-width="1.1"/>
<line x1="411.7" y1="390.6" x2="411.7" y2="393.5" stroke="#000" stroke-width="1.15"/>
<line x1="410.5" y1="390.6" x2="412.9" y2="390.6" stroke="#000" stroke-width="1.1"/>
<rect x="406.95" y="394.05" width="9.50" height="2.65" fill="#c0c0c0" stroke="#111" stroke-width="1.1"/>
<line x1="426.4" y1="391.5" x2="426.4" y2="394.0" stroke="#000" stroke-width="1.15"/>
<line x1="425.2" y1="391.5" x2="427.6" y2="391.5" stroke="#000" stroke-width="1.1"/>
<rect x="421.45" y="394.55" width="9.80" height="2.15" fill="#000000" stroke="#111" stroke-width="1.1"/>
<line x1="441.4" y1="345.2" x2="441.4" y2="360.8" stroke="#000" stroke-width="1.15"/>
<line x1="440.2" y1="345.2" x2="442.6" y2="345.2" stroke="#000" stroke-width="1.1"/>
<rect x="436.55" y="361.35" width="9.70" height="35.35" fill="#ffffff" stroke="#111" stroke-width="1.1"/>
<line x1="455.8" y1="315.0" x2="455.8" y2="341.2" stroke="#000" stroke-width="1.15"/>
<line x1="454.6" y1="315.0" x2="457.0" y2="315.0" stroke="#000" stroke-width="1.1"/>
<rect x="451.05" y="341.75" width="9.50" height="54.95" fill="#c0c0c0" stroke="#111" stroke-width="1.1"/>
<line x1="470.7" y1="342.0" x2="470.7" y2="350.6" stroke="#000" stroke-width="1.15"/>
<line x1="469.5" y1="342.0" x2="471.9" y2="342.0" stroke="#000" stroke-width="1.1"/>
<rect x="465.85" y="351.15" width="9.70" height="45.55" fill="#000000" stroke="#111" stroke-width="1.1"/>
<line x1="384.8" y1="306.6" x2="384.8" y2="397.2" stroke="#4a4a4a" stroke-width="1.4"/>
<line x1="382.2" y1="396.7" x2="483.0" y2="396.7" stroke="#222" stroke-width="1.4"/>
<line x1="482.5" y1="396.7" x2="482.5" y2="399.1" stroke="#222" stroke-width="1.1"/>
<rect x="392.7" y="401.35" width="39.0" height="2.7" fill="#000"/>
<text x="392.0" y="413.0" font-size="8.3" font-weight="bold" text-anchor="start" fill="#111" textLength="39.2" lengthAdjust="spacingAndGlyphs" stroke="#111" stroke-width="0.36">untreated</text>
<rect x="436.3" y="401.35" width="39.5" height="2.7" fill="#000"/>
<text x="440.5" y="413.0" font-size="8.3" font-weight="bold" text-anchor="start" fill="#111" textLength="30.7" lengthAdjust="spacingAndGlyphs" stroke="#111" stroke-width="0.36">2d UVB</text>
<text x="420.7" y="301.3" font-size="7.4" font-weight="bold" text-anchor="start" fill="#111" textLength="30.4" lengthAdjust="spacingAndGlyphs" stroke="#111" stroke-width="0.33">IL-1beta</text>
<text transform="translate(361.7,351.0) rotate(-90)" font-size="5.3" font-weight="bold" text-anchor="middle" fill="#111" stroke="#111" stroke-width="0.1" textLength="71.8" lengthAdjust="spacingAndGlyphs">rel. expression (wild-type=1)</text>
<rect x="477.30" y="300.00" width="4.50" height="4.20" fill="#ffffff" stroke="#000" stroke-width="1.15"/>
<text x="484.0" y="304.4" font-size="7.1" font-weight="bold" text-anchor="start" fill="#111" textLength="31.0" lengthAdjust="spacingAndGlyphs" stroke="#111" stroke-width="0.33">wild-type</text>
<rect x="477.30" y="310.40" width="4.50" height="4.10" fill="#c0c0c0" stroke="#000" stroke-width="1.15"/>
<text x="484.0" y="314.7" font-size="7.1" font-weight="bold" text-anchor="start" fill="#111" textLength="26.6" lengthAdjust="spacingAndGlyphs" stroke="#111" stroke-width="0.33">VEGF-C</text>
<rect x="477.30" y="320.60" width="4.50" height="4.10" fill="#000000" stroke="#000" stroke-width="1.15"/>
<text x="484.0" y="324.9" font-size="7.1" font-weight="bold" text-anchor="start" fill="#111" textLength="26.8" lengthAdjust="spacingAndGlyphs" stroke="#111" stroke-width="0.33">VEGF-D</text>
<line x1="441.2" y1="312.1" x2="457.0" y2="312.1" stroke="#111" stroke-width="1.7"/>
<text x="449.2" y="309.6" font-size="4.3" font-weight="bold" text-anchor="middle" fill="#333" textLength="16.0" lengthAdjust="spacingAndGlyphs" stroke="#333" stroke-width="0.05">p=0.05</text>
<line x1="54.2" y1="521.2" x2="56.8" y2="521.2" stroke="#444" stroke-width="1.0"/>
<text x="50.7" y="523.7" font-size="7.4" font-weight="bold" text-anchor="end" fill="#111" stroke="#111" stroke-width="0.33">0</text>
<line x1="54.2" y1="503.3" x2="56.8" y2="503.3" stroke="#444" stroke-width="1.0"/>
<text x="50.7" y="505.8" font-size="7.4" font-weight="bold" text-anchor="end" fill="#111" stroke="#111" stroke-width="0.33">5</text>
<line x1="54.2" y1="485.4" x2="56.8" y2="485.4" stroke="#444" stroke-width="1.0"/>
<text x="50.7" y="487.9" font-size="7.4" font-weight="bold" text-anchor="end" fill="#111" stroke="#111" stroke-width="0.33">10</text>
<line x1="54.2" y1="467.5" x2="56.8" y2="467.5" stroke="#444" stroke-width="1.0"/>
<text x="50.7" y="470.0" font-size="7.4" font-weight="bold" text-anchor="end" fill="#111" stroke="#111" stroke-width="0.33">15</text>
<line x1="54.2" y1="449.6" x2="56.8" y2="449.6" stroke="#444" stroke-width="1.0"/>
<text x="50.7" y="452.1" font-size="7.4" font-weight="bold" text-anchor="end" fill="#111" stroke="#111" stroke-width="0.33">20</text>
<line x1="54.2" y1="431.7" x2="56.8" y2="431.7" stroke="#444" stroke-width="1.0"/>
<text x="50.7" y="434.2" font-size="7.4" font-weight="bold" text-anchor="end" fill="#111" stroke="#111" stroke-width="0.33">25</text>
<line x1="68.4" y1="512.5" x2="68.4" y2="517.3" stroke="#000" stroke-width="1.15"/>
<line x1="67.2" y1="512.5" x2="69.6" y2="512.5" stroke="#000" stroke-width="1.1"/>
<rect x="63.55" y="517.85" width="9.70" height="3.35" fill="#ffffff" stroke="#111" stroke-width="1.1"/>
<line x1="83.2" y1="514.4" x2="83.2" y2="517.3" stroke="#000" stroke-width="1.15"/>
<line x1="82.0" y1="514.4" x2="84.5" y2="514.4" stroke="#000" stroke-width="1.1"/>
<rect x="78.45" y="517.85" width="9.60" height="3.35" fill="#c0c0c0" stroke="#111" stroke-width="1.1"/>
<line x1="98.0" y1="511.2" x2="98.0" y2="516.7" stroke="#000" stroke-width="1.15"/>
<line x1="96.8" y1="511.2" x2="99.2" y2="511.2" stroke="#000" stroke-width="1.1"/>
<rect x="93.25" y="517.25" width="9.60" height="3.95" fill="#000000" stroke="#111" stroke-width="1.1"/>
<line x1="112.9" y1="458.3" x2="112.9" y2="473.0" stroke="#000" stroke-width="1.15"/>
<line x1="111.7" y1="458.3" x2="114.1" y2="458.3" stroke="#000" stroke-width="1.1"/>
<rect x="108.05" y="473.55" width="9.70" height="47.65" fill="#ffffff" stroke="#111" stroke-width="1.1"/>
<line x1="127.2" y1="440.0" x2="127.2" y2="456.3" stroke="#000" stroke-width="1.15"/>
<line x1="126.0" y1="440.0" x2="128.4" y2="440.0" stroke="#000" stroke-width="1.1"/>
<rect x="122.35" y="456.85" width="9.70" height="64.35" fill="#c0c0c0" stroke="#111" stroke-width="1.1"/>
<line x1="141.6" y1="465.0" x2="141.6" y2="472.7" stroke="#000" stroke-width="1.15"/>
<line x1="140.4" y1="465.0" x2="142.8" y2="465.0" stroke="#000" stroke-width="1.1"/>
<rect x="136.75" y="473.25" width="9.70" height="47.95" fill="#000000" stroke="#111" stroke-width="1.1"/>
<line x1="56.8" y1="431.2" x2="56.8" y2="521.7" stroke="#4a4a4a" stroke-width="1.4"/>
<line x1="54.2" y1="521.2" x2="154.9" y2="521.2" stroke="#222" stroke-width="1.4"/>
<line x1="154.4" y1="521.2" x2="154.4" y2="523.6" stroke="#222" stroke-width="1.1"/>
<rect x="63.7" y="525.65" width="39.6" height="2.7" fill="#000"/>
<text x="63.9" y="537.3" font-size="8.3" font-weight="bold" text-anchor="start" fill="#111" textLength="39.8" lengthAdjust="spacingAndGlyphs" stroke="#111" stroke-width="0.36">untreated</text>
<rect x="107.3" y="525.65" width="39.9" height="2.7" fill="#000"/>
<text x="111.9" y="537.3" font-size="8.3" font-weight="bold" text-anchor="start" fill="#111" textLength="30.8" lengthAdjust="spacingAndGlyphs" stroke="#111" stroke-width="0.36">2d UVB</text>
<text x="95.3" y="425.3" font-size="7.4" font-weight="bold" text-anchor="start" fill="#111" textLength="20.2" lengthAdjust="spacingAndGlyphs" stroke="#111" stroke-width="0.33">CCL2</text>
<text transform="translate(39.2,476.6) rotate(-90)" font-size="5.1" font-weight="bold" text-anchor="middle" fill="#111" stroke="#111" stroke-width="0.1" textLength="69.1" lengthAdjust="spacingAndGlyphs">rel. expression (wild-type=1)</text>
<rect x="145.00" y="432.40" width="4.20" height="4.10" fill="#ffffff" stroke="#000" stroke-width="1.15"/>
<text x="151.7" y="436.7" font-size="7.1" font-weight="bold" text-anchor="start" fill="#111" textLength="31.2" lengthAdjust="spacingAndGlyphs" stroke="#111" stroke-width="0.33">wild-type</text>
<rect x="145.00" y="442.90" width="4.20" height="4.10" fill="#c0c0c0" stroke="#000" stroke-width="1.15"/>
<text x="151.7" y="447.2" font-size="7.1" font-weight="bold" text-anchor="start" fill="#111" textLength="26.9" lengthAdjust="spacingAndGlyphs" stroke="#111" stroke-width="0.33">VEGF-C</text>
<rect x="145.00" y="453.40" width="4.20" height="4.10" fill="#000000" stroke="#000" stroke-width="1.15"/>
<text x="151.7" y="457.7" font-size="7.1" font-weight="bold" text-anchor="start" fill="#111" textLength="27.1" lengthAdjust="spacingAndGlyphs" stroke="#111" stroke-width="0.33">VEGF-D</text>
<line x1="227.2" y1="521.2" x2="229.8" y2="521.2" stroke="#444" stroke-width="1.0"/>
<text x="224.0" y="523.7" font-size="7.4" font-weight="bold" text-anchor="end" fill="#111" stroke="#111" stroke-width="0.33">0</text>
<line x1="227.2" y1="508.4" x2="229.8" y2="508.4" stroke="#444" stroke-width="1.0"/>
<text x="224.0" y="510.9" font-size="7.4" font-weight="bold" text-anchor="end" fill="#111" stroke="#111" stroke-width="0.33">200</text>
<line x1="227.2" y1="495.6" x2="229.8" y2="495.6" stroke="#444" stroke-width="1.0"/>
<text x="224.0" y="498.1" font-size="7.4" font-weight="bold" text-anchor="end" fill="#111" stroke="#111" stroke-width="0.33">400</text>
<line x1="227.2" y1="482.8" x2="229.8" y2="482.8" stroke="#444" stroke-width="1.0"/>
<text x="224.0" y="485.3" font-size="7.4" font-weight="bold" text-anchor="end" fill="#111" stroke="#111" stroke-width="0.33">600</text>
<line x1="227.2" y1="470.1" x2="229.8" y2="470.1" stroke="#444" stroke-width="1.0"/>
<text x="224.0" y="472.5" font-size="7.4" font-weight="bold" text-anchor="end" fill="#111" stroke="#111" stroke-width="0.33">800</text>
<line x1="227.2" y1="457.3" x2="229.8" y2="457.3" stroke="#444" stroke-width="1.0"/>
<text x="224.0" y="459.7" font-size="7.4" font-weight="bold" text-anchor="end" fill="#111" stroke="#111" stroke-width="0.33">1000</text>
<line x1="227.2" y1="444.5" x2="229.8" y2="444.5" stroke="#444" stroke-width="1.0"/>
<text x="224.0" y="446.9" font-size="7.4" font-weight="bold" text-anchor="end" fill="#111" stroke="#111" stroke-width="0.33">1200</text>
<line x1="227.2" y1="431.7" x2="229.8" y2="431.7" stroke="#444" stroke-width="1.0"/>
<text x="224.0" y="434.2" font-size="7.4" font-weight="bold" text-anchor="end" fill="#111" stroke="#111" stroke-width="0.33">1400</text>
<line x1="240.4" y1="520.3" x2="240.4" y2="520.8" stroke="#000" stroke-width="1.15"/>
<line x1="239.2" y1="520.3" x2="241.6" y2="520.3" stroke="#000" stroke-width="1.1"/>
<line x1="253.9" y1="520.3" x2="253.9" y2="520.8" stroke="#000" stroke-width="1.15"/>
<line x1="252.8" y1="520.3" x2="255.1" y2="520.3" stroke="#000" stroke-width="1.1"/>
<line x1="267.5" y1="520.3" x2="267.5" y2="520.8" stroke="#000" stroke-width="1.15"/>
<line x1="266.3" y1="520.3" x2="268.7" y2="520.3" stroke="#000" stroke-width="1.1"/>
<line x1="281.1" y1="489.0" x2="281.1" y2="502.3" stroke="#000" stroke-width="1.15"/>
<line x1="279.9" y1="489.0" x2="282.3" y2="489.0" stroke="#000" stroke-width="1.1"/>
<rect x="276.45" y="502.85" width="9.30" height="18.35" fill="#ffffff" stroke="#111" stroke-width="1.1"/>
<line x1="294.6" y1="442.0" x2="294.6" y2="466.3" stroke="#000" stroke-width="1.15"/>
<line x1="293.4" y1="442.0" x2="295.8" y2="442.0" stroke="#000" stroke-width="1.1"/>
<rect x="289.95" y="466.85" width="9.40" height="54.35" fill="#c0c0c0" stroke="#111" stroke-width="1.1"/>
<line x1="308.2" y1="476.3" x2="308.2" y2="492.9" stroke="#000" stroke-width="1.15"/>
<line x1="307.1" y1="476.3" x2="309.4" y2="476.3" stroke="#000" stroke-width="1.1"/>
<rect x="303.65" y="493.45" width="9.20" height="27.75" fill="#000000" stroke="#111" stroke-width="1.1"/>
<line x1="229.8" y1="431.2" x2="229.8" y2="521.7" stroke="#4a4a4a" stroke-width="1.4"/>
<line x1="227.2" y1="521.2" x2="319.3" y2="521.2" stroke="#222" stroke-width="1.4"/>
<line x1="318.8" y1="521.2" x2="318.8" y2="523.6" stroke="#222" stroke-width="1.1"/>
<rect x="233.7" y="525.65" width="39.0" height="2.7" fill="#000"/>
<text x="233.4" y="537.3" font-size="8.3" font-weight="bold" text-anchor="start" fill="#111" textLength="39.7" lengthAdjust="spacingAndGlyphs" stroke="#111" stroke-width="0.36">untreated</text>
<rect x="276.7" y="525.65" width="36.4" height="2.7" fill="#000"/>
<text x="279.9" y="537.3" font-size="8.3" font-weight="bold" text-anchor="start" fill="#111" textLength="31.4" lengthAdjust="spacingAndGlyphs" stroke="#111" stroke-width="0.36">2d UVB</text>
<text x="259.1" y="425.3" font-size="7.4" font-weight="bold" text-anchor="start" fill="#111" textLength="24.7" lengthAdjust="spacingAndGlyphs" stroke="#111" stroke-width="0.33">CXCL2</text>
<text transform="translate(203.9,476.1) rotate(-90)" font-size="5.2" font-weight="bold" text-anchor="middle" fill="#111" stroke="#111" stroke-width="0.1" textLength="70.1" lengthAdjust="spacingAndGlyphs">rel. expression (wild-type=1)</text>
<rect x="310.00" y="422.80" width="4.20" height="4.10" fill="#ffffff" stroke="#000" stroke-width="1.15"/>
<text x="316.7" y="427.1" font-size="7.1" font-weight="bold" text-anchor="start" fill="#111" textLength="31.2" lengthAdjust="spacingAndGlyphs" stroke="#111" stroke-width="0.33">wild-type</text>
<rect x="310.00" y="433.20" width="4.20" height="4.10" fill="#c0c0c0" stroke="#000" stroke-width="1.15"/>
<text x="316.7" y="437.5" font-size="7.1" font-weight="bold" text-anchor="start" fill="#111" textLength="26.9" lengthAdjust="spacingAndGlyphs" stroke="#111" stroke-width="0.33">VEGF-C</text>
<rect x="310.00" y="443.50" width="4.20" height="4.10" fill="#000000" stroke="#000" stroke-width="1.15"/>
<text x="316.7" y="447.8" font-size="7.1" font-weight="bold" text-anchor="start" fill="#111" textLength="27.1" lengthAdjust="spacingAndGlyphs" stroke="#111" stroke-width="0.33">VEGF-D</text>
<line x1="280.4" y1="439.8" x2="295.8" y2="439.8" stroke="#111" stroke-width="1.7"/>
<text x="289.4" y="440.2" font-size="10" font-weight="bold" text-anchor="middle" fill="#000" letter-spacing="2.3" stroke="#000" stroke-width="0.35">**</text>
<line x1="58.4" y1="661.9" x2="61.0" y2="661.9" stroke="#444" stroke-width="1.0"/>
<text x="55.4" y="664.4" font-size="7.4" font-weight="bold" text-anchor="end" fill="#111" stroke="#111" stroke-width="0.33">0</text>
<line x1="58.4" y1="639.5" x2="61.0" y2="639.5" stroke="#444" stroke-width="1.0"/>
<text x="55.4" y="642.0" font-size="7.4" font-weight="bold" text-anchor="end" fill="#111" stroke="#111" stroke-width="0.33">50</text>
<line x1="58.4" y1="617.1" x2="61.0" y2="617.1" stroke="#444" stroke-width="1.0"/>
<text x="55.4" y="619.6" font-size="7.4" font-weight="bold" text-anchor="end" fill="#111" stroke="#111" stroke-width="0.33">100</text>
<line x1="58.4" y1="594.7" x2="61.0" y2="594.7" stroke="#444" stroke-width="1.0"/>
<text x="55.4" y="597.2" font-size="7.4" font-weight="bold" text-anchor="end" fill="#111" stroke="#111" stroke-width="0.33">150</text>
<line x1="58.4" y1="572.3" x2="61.0" y2="572.3" stroke="#444" stroke-width="1.0"/>
<text x="55.4" y="574.8" font-size="7.4" font-weight="bold" text-anchor="end" fill="#111" stroke="#111" stroke-width="0.33">200</text>
<line x1="69.2" y1="653.3" x2="69.2" y2="654.4" stroke="#000" stroke-width="1.15"/>
<line x1="68.0" y1="653.3" x2="70.4" y2="653.3" stroke="#000" stroke-width="1.1"/>
<rect x="66.03" y="654.95" width="6.24" height="6.95" fill="#ffffff" stroke="#111" stroke-width="1.1"/>
<rect x="75.63" y="654.95" width="6.04" height="6.95" fill="#c0c0c0" stroke="#111" stroke-width="1.1"/>
<line x1="88.2" y1="653.6" x2="88.2" y2="654.4" stroke="#000" stroke-width="1.15"/>
<line x1="87.0" y1="653.6" x2="89.4" y2="653.6" stroke="#000" stroke-width="1.1"/>
<rect x="85.13" y="654.95" width="6.04" height="6.95" fill="#000000" stroke="#111" stroke-width="1.1"/>
<line x1="98.0" y1="581.7" x2="98.0" y2="598.1" stroke="#000" stroke-width="1.15"/>
<line x1="96.8" y1="581.7" x2="99.2" y2="581.7" stroke="#000" stroke-width="1.1"/>
<rect x="95.03" y="598.65" width="6.04" height="63.25" fill="#ffffff" stroke="#111" stroke-width="1.1"/>
<line x1="107.6" y1="610.2" x2="107.6" y2="619.4" stroke="#000" stroke-width="1.15"/>
<line x1="106.4" y1="610.2" x2="108.8" y2="610.2" stroke="#000" stroke-width="1.1"/>
<rect x="104.53" y="619.95" width="6.14" height="41.95" fill="#c0c0c0" stroke="#111" stroke-width="1.1"/>
<line x1="117.2" y1="602.5" x2="117.2" y2="607.7" stroke="#000" stroke-width="1.15"/>
<line x1="116.0" y1="602.5" x2="118.5" y2="602.5" stroke="#000" stroke-width="1.1"/>
<rect x="114.13" y="608.25" width="6.24" height="53.65" fill="#000000" stroke="#111" stroke-width="1.1"/>
<line x1="126.9" y1="641.7" x2="126.9" y2="647.5" stroke="#000" stroke-width="1.15"/>
<line x1="125.7" y1="641.7" x2="128.1" y2="641.7" stroke="#000" stroke-width="1.1"/>
<rect x="123.83" y="648.05" width="6.04" height="13.85" fill="#ffffff" stroke="#111" stroke-width="1.1"/>
<line x1="136.4" y1="636.5" x2="136.4" y2="644.3" stroke="#000" stroke-width="1.15"/>
<line x1="135.2" y1="636.5" x2="137.6" y2="636.5" stroke="#000" stroke-width="1.1"/>
<rect x="133.43" y="644.85" width="6.04" height="17.05" fill="#c0c0c0" stroke="#111" stroke-width="1.1"/>
<line x1="146.1" y1="640.3" x2="146.1" y2="645.0" stroke="#000" stroke-width="1.15"/>
<line x1="144.9" y1="640.3" x2="147.2" y2="640.3" stroke="#000" stroke-width="1.1"/>
<rect x="143.03" y="645.55" width="6.04" height="16.35" fill="#000000" stroke="#111" stroke-width="1.1"/>
<line x1="61.0" y1="571.8" x2="61.0" y2="662.4" stroke="#4a4a4a" stroke-width="1.4"/>
<line x1="58.4" y1="661.9" x2="154.3" y2="661.9" stroke="#222" stroke-width="1.4"/>
<line x1="153.8" y1="661.9" x2="153.8" y2="664.3" stroke="#222" stroke-width="1.1"/>
<rect x="65.0" y="665.05" width="27.0" height="2.3" fill="#000"/>
<text x="65.0" y="673.8" font-size="5.9" font-weight="bold" text-anchor="start" fill="#111" textLength="25.9" lengthAdjust="spacingAndGlyphs" stroke="#111" stroke-width="0.18">untreated</text>
<rect x="94.4" y="665.05" width="26.4" height="2.3" fill="#000"/>
<text x="98.7" y="673.8" font-size="5.9" font-weight="bold" text-anchor="start" fill="#111" textLength="18.1" lengthAdjust="spacingAndGlyphs" stroke="#111" stroke-width="0.18">2d oxa</text>
<rect x="123.2" y="665.05" width="26.8" height="2.3" fill="#000"/>
<text x="126.2" y="673.8" font-size="5.9" font-weight="bold" text-anchor="start" fill="#111" textLength="20.4" lengthAdjust="spacingAndGlyphs" stroke="#111" stroke-width="0.18">2d UVB</text>
<text x="76.7" y="565.8" font-size="7.4" font-weight="bold" text-anchor="start" fill="#111" textLength="57.8" lengthAdjust="spacingAndGlyphs" stroke="#111" stroke-width="0.33">IL-1beta protein</text>
<text transform="translate(36.8,617.1) rotate(-90)" font-size="7.2" font-weight="bold" text-anchor="middle" fill="#111" stroke="#111" stroke-width="0.1" textLength="38.1" lengthAdjust="spacingAndGlyphs">pg/(ml*mg)</text>
<rect x="147.20" y="568.20" width="4.40" height="4.20" fill="#ffffff" stroke="#000" stroke-width="1.15"/>
<text x="154.0" y="572.5" font-size="7.1" font-weight="bold" text-anchor="start" fill="#111" textLength="30.6" lengthAdjust="spacingAndGlyphs" stroke="#111" stroke-width="0.33">wild-type</text>
<rect x="147.20" y="578.40" width="4.40" height="4.20" fill="#c0c0c0" stroke="#000" stroke-width="1.15"/>
<text x="154.0" y="582.8" font-size="7.1" font-weight="bold" text-anchor="start" fill="#111" textLength="26.0" lengthAdjust="spacingAndGlyphs" stroke="#111" stroke-width="0.33">VEGF-C</text>
<rect x="147.20" y="588.50" width="4.40" height="4.20" fill="#000000" stroke="#000" stroke-width="1.15"/>
<text x="154.0" y="592.8" font-size="7.1" font-weight="bold" text-anchor="start" fill="#111" textLength="26.2" lengthAdjust="spacingAndGlyphs" stroke="#111" stroke-width="0.33">VEGF-D</text>
<line x1="97.3" y1="578.8" x2="108.7" y2="578.8" stroke="#111" stroke-width="1.7"/>
<text x="103.0" y="580.4" font-size="11.5" font-weight="bold" text-anchor="middle" fill="#000" letter-spacing="0" stroke="#000" stroke-width="0.3">*</text>
<line x1="219.0" y1="661.9" x2="221.6" y2="661.9" stroke="#444" stroke-width="1.0"/>
<text x="215.9" y="664.4" font-size="7.4" font-weight="bold" text-anchor="end" fill="#111" stroke="#111" stroke-width="0.33">0</text>
<line x1="219.0" y1="649.1" x2="221.6" y2="649.1" stroke="#444" stroke-width="1.0"/>
<text x="215.9" y="651.6" font-size="7.4" font-weight="bold" text-anchor="end" fill="#111" stroke="#111" stroke-width="0.33">5</text>
<line x1="219.0" y1="636.3" x2="221.6" y2="636.3" stroke="#444" stroke-width="1.0"/>
<text x="215.9" y="638.8" font-size="7.4" font-weight="bold" text-anchor="end" fill="#111" stroke="#111" stroke-width="0.33">10</text>
<line x1="219.0" y1="623.5" x2="221.6" y2="623.5" stroke="#444" stroke-width="1.0"/>
<text x="215.9" y="626.0" font-size="7.4" font-weight="bold" text-anchor="end" fill="#111" stroke="#111" stroke-width="0.33">15</text>
<line x1="219.0" y1="610.7" x2="221.6" y2="610.7" stroke="#444" stroke-width="1.0"/>
<text x="215.9" y="613.2" font-size="7.4" font-weight="bold" text-anchor="end" fill="#111" stroke="#111" stroke-width="0.33">20</text>
<line x1="219.0" y1="597.9" x2="221.6" y2="597.9" stroke="#444" stroke-width="1.0"/>
<text x="215.9" y="600.4" font-size="7.4" font-weight="bold" text-anchor="end" fill="#111" stroke="#111" stroke-width="0.33">25</text>
<line x1="219.0" y1="585.1" x2="221.6" y2="585.1" stroke="#444" stroke-width="1.0"/>
<text x="215.9" y="587.6" font-size="7.4" font-weight="bold" text-anchor="end" fill="#111" stroke="#111" stroke-width="0.33">30</text>
<line x1="219.0" y1="572.3" x2="221.6" y2="572.3" stroke="#444" stroke-width="1.0"/>
<text x="215.9" y="574.8" font-size="7.4" font-weight="bold" text-anchor="end" fill="#111" stroke="#111" stroke-width="0.33">35</text>
<line x1="230.2" y1="651.9" x2="230.2" y2="653.2" stroke="#000" stroke-width="1.15"/>
<line x1="229.0" y1="651.9" x2="231.4" y2="651.9" stroke="#000" stroke-width="1.1"/>
<rect x="227.03" y="653.75" width="6.34" height="8.15" fill="#ffffff" stroke="#111" stroke-width="1.1"/>
<line x1="240.1" y1="650.9" x2="240.1" y2="651.9" stroke="#000" stroke-width="1.15"/>
<line x1="238.9" y1="650.9" x2="241.3" y2="650.9" stroke="#000" stroke-width="1.1"/>
<rect x="237.03" y="652.45" width="6.24" height="9.45" fill="#c0c0c0" stroke="#111" stroke-width="1.1"/>
<line x1="250.2" y1="651.6" x2="250.2" y2="652.3" stroke="#000" stroke-width="1.15"/>
<line x1="249.0" y1="651.6" x2="251.4" y2="651.6" stroke="#000" stroke-width="1.1"/>
<rect x="247.03" y="652.85" width="6.34" height="9.05" fill="#000000" stroke="#111" stroke-width="1.1"/>
<line x1="260.4" y1="587.0" x2="260.4" y2="595.2" stroke="#000" stroke-width="1.15"/>
<line x1="259.2" y1="587.0" x2="261.6" y2="587.0" stroke="#000" stroke-width="1.1"/>
<rect x="257.33" y="595.75" width="6.24" height="66.15" fill="#ffffff" stroke="#111" stroke-width="1.1"/>
<line x1="270.5" y1="604.2" x2="270.5" y2="608.6" stroke="#000" stroke-width="1.15"/>
<line x1="269.3" y1="604.2" x2="271.7" y2="604.2" stroke="#000" stroke-width="1.1"/>
<rect x="267.43" y="609.15" width="6.14" height="52.75" fill="#c0c0c0" stroke="#111" stroke-width="1.1"/>
<line x1="280.6" y1="593.2" x2="280.6" y2="600.7" stroke="#000" stroke-width="1.15"/>
<line x1="279.4" y1="593.2" x2="281.8" y2="593.2" stroke="#000" stroke-width="1.1"/>
<rect x="277.53" y="601.25" width="6.04" height="60.65" fill="#000000" stroke="#111" stroke-width="1.1"/>
<line x1="290.8" y1="632.7" x2="290.8" y2="641.3" stroke="#000" stroke-width="1.15"/>
<line x1="289.6" y1="632.7" x2="292.0" y2="632.7" stroke="#000" stroke-width="1.1"/>
<rect x="287.83" y="641.85" width="5.94" height="20.05" fill="#ffffff" stroke="#111" stroke-width="1.1"/>
<line x1="300.9" y1="625.0" x2="300.9" y2="633.2" stroke="#000" stroke-width="1.15"/>
<line x1="299.7" y1="625.0" x2="302.1" y2="625.0" stroke="#000" stroke-width="1.1"/>
<rect x="297.83" y="633.75" width="6.04" height="28.15" fill="#c0c0c0" stroke="#111" stroke-width="1.1"/>
<line x1="310.9" y1="629.4" x2="310.9" y2="634.6" stroke="#000" stroke-width="1.15"/>
<line x1="309.8" y1="629.4" x2="312.1" y2="629.4" stroke="#000" stroke-width="1.1"/>
<rect x="307.93" y="635.15" width="6.04" height="26.75" fill="#000000" stroke="#111" stroke-width="1.1"/>
<line x1="221.6" y1="571.8" x2="221.6" y2="662.4" stroke="#4a4a4a" stroke-width="1.4"/>
<line x1="219.0" y1="661.9" x2="319.2" y2="661.9" stroke="#222" stroke-width="1.4"/>
<line x1="318.7" y1="661.9" x2="318.7" y2="664.3" stroke="#222" stroke-width="1.1"/>
<rect x="226.5" y="665.05" width="27.3" height="2.3" fill="#000"/>
<text x="226.8" y="673.8" font-size="5.9" font-weight="bold" text-anchor="start" fill="#111" textLength="26.0" lengthAdjust="spacingAndGlyphs" stroke="#111" stroke-width="0.18">untreated</text>
<rect x="256.9" y="665.05" width="27.1" height="2.3" fill="#000"/>
<text x="261.1" y="673.8" font-size="5.9" font-weight="bold" text-anchor="start" fill="#111" textLength="18.2" lengthAdjust="spacingAndGlyphs" stroke="#111" stroke-width="0.18">2d oxa</text>
<rect x="287.4" y="665.05" width="27.0" height="2.3" fill="#000"/>
<text x="289.9" y="673.8" font-size="5.9" font-weight="bold" text-anchor="start" fill="#111" textLength="20.2" lengthAdjust="spacingAndGlyphs" stroke="#111" stroke-width="0.18">2d UVB</text>
<text x="242.6" y="565.8" font-size="7.4" font-weight="bold" text-anchor="start" fill="#111" textLength="56.7" lengthAdjust="spacingAndGlyphs" stroke="#111" stroke-width="0.33">VEGF-A protein</text>
<text transform="translate(202.2,617.2) rotate(-90)" font-size="7.2" font-weight="bold" text-anchor="middle" fill="#111" stroke="#111" stroke-width="0.1" textLength="37.8" lengthAdjust="spacingAndGlyphs">pg/(ml*mg)</text>
<rect x="312.20" y="568.20" width="4.40" height="4.20" fill="#ffffff" stroke="#000" stroke-width="1.15"/>
<text x="319.2" y="572.5" font-size="7.1" font-weight="bold" text-anchor="start" fill="#111" textLength="30.4" lengthAdjust="spacingAndGlyphs" stroke="#111" stroke-width="0.33">wild-type</text>
<rect x="312.20" y="578.40" width="4.40" height="4.20" fill="#c0c0c0" stroke="#000" stroke-width="1.15"/>
<text x="319.2" y="582.8" font-size="7.1" font-weight="bold" text-anchor="start" fill="#111" textLength="25.6" lengthAdjust="spacingAndGlyphs" stroke="#111" stroke-width="0.33">VEGF-C</text>
<rect x="312.20" y="588.50" width="4.40" height="4.20" fill="#000000" stroke="#000" stroke-width="1.15"/>
<text x="319.2" y="592.8" font-size="7.1" font-weight="bold" text-anchor="start" fill="#111" textLength="25.8" lengthAdjust="spacingAndGlyphs" stroke="#111" stroke-width="0.33">VEGF-D</text>
<line x1="259.2" y1="584.6" x2="270.8" y2="584.6" stroke="#111" stroke-width="1.7"/>
<text x="266.0" y="586.2" font-size="10" font-weight="bold" text-anchor="middle" fill="#000" letter-spacing="2.3" stroke="#000" stroke-width="0.35">**</text>
<line x1="388.4" y1="661.9" x2="391.1" y2="661.9" stroke="#444" stroke-width="1.0"/>
<text x="385.5" y="664.4" font-size="7.4" font-weight="bold" text-anchor="end" fill="#111" stroke="#111" stroke-width="0.33">0</text>
<line x1="388.4" y1="650.7" x2="391.1" y2="650.7" stroke="#444" stroke-width="1.0"/>
<text x="385.5" y="653.2" font-size="7.4" font-weight="bold" text-anchor="end" fill="#111" stroke="#111" stroke-width="0.33">20</text>
<line x1="388.4" y1="639.5" x2="391.1" y2="639.5" stroke="#444" stroke-width="1.0"/>
<text x="385.5" y="642.0" font-size="7.4" font-weight="bold" text-anchor="end" fill="#111" stroke="#111" stroke-width="0.33">40</text>
<line x1="388.4" y1="628.3" x2="391.1" y2="628.3" stroke="#444" stroke-width="1.0"/>
<text x="385.5" y="630.8" font-size="7.4" font-weight="bold" text-anchor="end" fill="#111" stroke="#111" stroke-width="0.33">60</text>
<line x1="388.4" y1="617.1" x2="391.1" y2="617.1" stroke="#444" stroke-width="1.0"/>
<text x="385.5" y="619.6" font-size="7.4" font-weight="bold" text-anchor="end" fill="#111" stroke="#111" stroke-width="0.33">80</text>
<line x1="388.4" y1="605.9" x2="391.1" y2="605.9" stroke="#444" stroke-width="1.0"/>
<text x="385.5" y="608.4" font-size="7.4" font-weight="bold" text-anchor="end" fill="#111" stroke="#111" stroke-width="0.33">100</text>
<line x1="388.4" y1="594.7" x2="391.1" y2="594.7" stroke="#444" stroke-width="1.0"/>
<text x="385.5" y="597.2" font-size="7.4" font-weight="bold" text-anchor="end" fill="#111" stroke="#111" stroke-width="0.33">120</text>
<line x1="388.4" y1="583.5" x2="391.1" y2="583.5" stroke="#444" stroke-width="1.0"/>
<text x="385.5" y="586.0" font-size="7.4" font-weight="bold" text-anchor="end" fill="#111" stroke="#111" stroke-width="0.33">140</text>
<line x1="388.4" y1="572.3" x2="391.1" y2="572.3" stroke="#444" stroke-width="1.0"/>
<text x="385.5" y="574.8" font-size="7.4" font-weight="bold" text-anchor="end" fill="#111" stroke="#111" stroke-width="0.33">160</text>
<line x1="398.6" y1="658.4" x2="398.6" y2="659.3" stroke="#000" stroke-width="1.15"/>
<line x1="397.4" y1="658.4" x2="399.8" y2="658.4" stroke="#000" stroke-width="1.1"/>
<rect x="395.43" y="659.85" width="6.24" height="2.05" fill="#ffffff" stroke="#111" stroke-width="1.1"/>
<rect x="405.33" y="660.05" width="6.24" height="1.85" fill="#c0c0c0" stroke="#111" stroke-width="1.1"/>
<line x1="418.1" y1="658.7" x2="418.1" y2="659.4" stroke="#000" stroke-width="1.15"/>
<line x1="416.9" y1="658.7" x2="419.3" y2="658.7" stroke="#000" stroke-width="1.1"/>
<rect x="415.03" y="659.95" width="6.14" height="1.95" fill="#000000" stroke="#111" stroke-width="1.1"/>
<line x1="427.9" y1="599.4" x2="427.9" y2="608.2" stroke="#000" stroke-width="1.15"/>
<line x1="426.8" y1="599.4" x2="429.1" y2="599.4" stroke="#000" stroke-width="1.1"/>
<rect x="424.83" y="608.75" width="6.24" height="53.15" fill="#ffffff" stroke="#111" stroke-width="1.1"/>
<line x1="437.6" y1="603.8" x2="437.6" y2="608.6" stroke="#000" stroke-width="1.15"/>
<line x1="436.4" y1="603.8" x2="438.8" y2="603.8" stroke="#000" stroke-width="1.1"/>
<rect x="434.43" y="609.15" width="6.34" height="52.75" fill="#c0c0c0" stroke="#111" stroke-width="1.1"/>
<line x1="447.2" y1="583.2" x2="447.2" y2="597.5" stroke="#000" stroke-width="1.15"/>
<line x1="446.1" y1="583.2" x2="448.4" y2="583.2" stroke="#000" stroke-width="1.1"/>
<rect x="444.13" y="598.05" width="6.24" height="63.85" fill="#000000" stroke="#111" stroke-width="1.1"/>
<line x1="457.1" y1="638.4" x2="457.1" y2="645.2" stroke="#000" stroke-width="1.15"/>
<line x1="455.9" y1="638.4" x2="458.2" y2="638.4" stroke="#000" stroke-width="1.1"/>
<rect x="454.03" y="645.75" width="6.04" height="16.15" fill="#ffffff" stroke="#111" stroke-width="1.1"/>
<line x1="466.6" y1="633.2" x2="466.6" y2="641.3" stroke="#000" stroke-width="1.15"/>
<line x1="465.4" y1="633.2" x2="467.8" y2="633.2" stroke="#000" stroke-width="1.1"/>
<rect x="463.63" y="641.85" width="6.04" height="20.05" fill="#c0c0c0" stroke="#111" stroke-width="1.1"/>
<line x1="476.1" y1="637.5" x2="476.1" y2="642.3" stroke="#000" stroke-width="1.15"/>
<line x1="474.9" y1="637.5" x2="477.3" y2="637.5" stroke="#000" stroke-width="1.1"/>
<rect x="473.03" y="642.85" width="6.14" height="19.05" fill="#000000" stroke="#111" stroke-width="1.1"/>
<line x1="391.1" y1="571.8" x2="391.1" y2="662.4" stroke="#4a4a4a" stroke-width="1.4"/>
<line x1="388.4" y1="661.9" x2="484.9" y2="661.9" stroke="#222" stroke-width="1.4"/>
<line x1="484.4" y1="661.9" x2="484.4" y2="664.3" stroke="#222" stroke-width="1.1"/>
<rect x="395.0" y="665.05" width="27.0" height="2.3" fill="#000"/>
<text x="395.2" y="673.8" font-size="5.9" font-weight="bold" text-anchor="start" fill="#111" textLength="26.1" lengthAdjust="spacingAndGlyphs" stroke="#111" stroke-width="0.18">untreated</text>
<rect x="424.4" y="665.05" width="26.4" height="2.3" fill="#000"/>
<text x="428.8" y="673.8" font-size="5.9" font-weight="bold" text-anchor="start" fill="#111" textLength="17.8" lengthAdjust="spacingAndGlyphs" stroke="#111" stroke-width="0.18">2d oxa</text>
<rect x="453.7" y="665.05" width="26.3" height="2.3" fill="#000"/>
<text x="456.2" y="673.8" font-size="5.9" font-weight="bold" text-anchor="start" fill="#111" textLength="20.5" lengthAdjust="spacingAndGlyphs" stroke="#111" stroke-width="0.18">2d UVB</text>
<text x="411.4" y="565.8" font-size="7.4" font-weight="bold" text-anchor="start" fill="#111" textLength="48.7" lengthAdjust="spacingAndGlyphs" stroke="#111" stroke-width="0.33">CCL2 protein</text>
<text transform="translate(366.7,617.2) rotate(-90)" font-size="7.2" font-weight="bold" text-anchor="middle" fill="#111" stroke="#111" stroke-width="0.1" textLength="38.1" lengthAdjust="spacingAndGlyphs">pg/(ml*mg)</text>
<rect x="477.50" y="568.20" width="4.30" height="4.20" fill="#ffffff" stroke="#000" stroke-width="1.15"/>
<text x="484.0" y="572.5" font-size="7.1" font-weight="bold" text-anchor="start" fill="#111" textLength="30.8" lengthAdjust="spacingAndGlyphs" stroke="#111" stroke-width="0.33">wild-type</text>
<rect x="477.50" y="578.40" width="4.30" height="4.20" fill="#c0c0c0" stroke="#000" stroke-width="1.15"/>
<text x="484.0" y="582.8" font-size="7.1" font-weight="bold" text-anchor="start" fill="#111" textLength="26.4" lengthAdjust="spacingAndGlyphs" stroke="#111" stroke-width="0.33">VEGF-C</text>
<rect x="477.50" y="588.50" width="4.30" height="4.20" fill="#000000" stroke="#000" stroke-width="1.15"/>
<text x="484.0" y="592.8" font-size="7.1" font-weight="bold" text-anchor="start" fill="#111" textLength="26.6" lengthAdjust="spacingAndGlyphs" stroke="#111" stroke-width="0.33">VEGF-D</text>
</svg>
</body></html>
